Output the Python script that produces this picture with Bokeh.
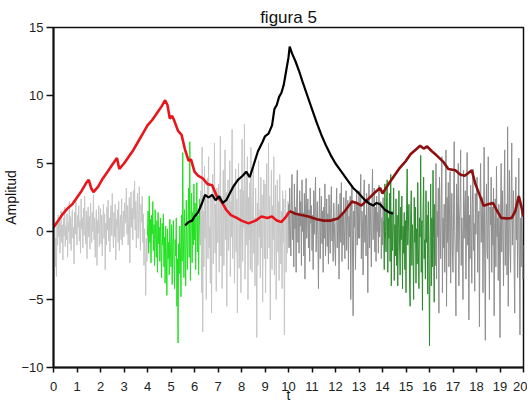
from bokeh.plotting import figure
from bokeh.embed import file_html
from bokeh.resources import INLINE
from bokeh.models import Range1d, FixedTicker

# ---- data ----
# noisy signal, one value every 0.025 t (40 values per unit of t)
sig_0 = [0.3, -1.2, 0.8, -2.6, -0.5, -3.3, 0.6, -1.0, 1.2, -0.4, 0.9, -1.6, 0.2, 1.5, -0.8, 0.5, -2.1, 1.0, -0.3, 1.8,
         -1.1, 0.4, -0.6, 1.3, -1.9, 0.7, 0.0, 2.2, -0.9, 1.1, -1.4, 0.6, 1.6, -0.5, 0.3, -2.4, 1.4, -0.2, 2.3, 0.1]
sig_1 = [-1.0, 1.2, 0.3, 1.9, -0.7, 0.8, -1.6, 2.4, 0.2, 1.0, -1.2, 1.7, -0.3, 2.6, 0.4, -0.9, 1.5, -2.0, 0.9, 1.8,
         -0.4, 1.1, -1.3, 2.1, 0.6, -0.8, 1.4, 0.0, 2.7, -0.6, 1.0, -1.9, 0.5, 1.6, -2.5, 0.8, -0.1, 1.9, -1.1, 0.7]
sig_2 = [1.7, -0.9, 1.2, -1.8, 0.4, 2.0, -0.5, 1.3, -2.8, 0.6, -1.0, 1.8, 0.1, 2.3, -0.7, 1.0, -1.5, 0.8, 1.9, -0.3,
         2.8, 0.2, -1.2, 1.4, -0.4, 2.0, -2.1, 0.9, 0.3, 1.6, -0.8, 2.2, -1.4, 0.5, 1.2, -0.6, 2.4, -1.0, 0.7, 1.5]
sig_3 = [-0.4, 2.1, 0.6, 1.4, 3.2, -0.2, 1.9, -1.0, 0.8, 2.5, -2.3, 1.2, 2.9, 0.3, 1.7, -0.6, 3.0, 0.9, 3.7, 0.1,
         2.2, -1.2, 1.5, 2.8, -0.5, 1.0, 3.3, 0.4, -1.4, 2.0, 0.7, 2.6, -0.8, 1.3, -2.5, 0.2, -1.8, -4.7, -0.5, -2.2]
sig_4 = [-0.3, 1.5, -1.6, 2.6, -0.8, 0.9, -2.3, 1.2, -0.2, 2.2, -1.4, 0.5, -2.5, 1.6, -0.6, -1.9, 0.8, -3.0, 1.4, -0.9,
         0.3, -2.2, 1.0, -1.3, -3.4, 0.6, -1.0, 1.3, -2.6, -0.4, -3.8, 0.4, -1.7, -4.7, 0.2, -2.0, -0.8, -3.2, 0.9, -1.5]
sig_5 = [-2.6, 0.5, -3.9, -1.0, 0.8, -2.4, -4.2, -0.6, -1.8, 1.0, -5.5, -2.0, -8.2, -0.9, -3.1, 0.4, -1.5, -4.8, 1.2, -2.2,
         5.8, -0.4, -3.4, 1.6, -1.2, -4.0, 2.3, -0.7, -2.8, 0.9, 3.2, -1.9, 6.6, -3.6, 0.5, 2.8, -2.3, 1.4, -1.0, 3.5]
sig_6 = [-0.6, 2.1, -2.8, 0.8, 3.6, -1.5, 1.2, -3.2, 0.4, 2.4, -1.0, 3.0, -4.5, 6.2, -7.4, 1.5, -2.6, 4.8, -0.5, 2.6,
         -5.0, 0.9, 3.9, -2.0, 5.5, -1.2, 0.3, -3.8, 2.7, -6.0, 1.8, 4.2, -2.4, 0.6, 6.5, -1.6, 2.0, -4.4, 3.2, -0.8]
sig_7 = [-0.8, 3.5, -3.0, 1.4, 7.0, -1.8, 2.6, -4.2, 0.5, 4.5, -2.5, 1.9, 6.0, -0.6, 2.9, -5.5, 1.0, 3.8, -1.4, 0.2,
         5.2, -3.3, 2.2, -0.4, 7.5, -2.0, 1.2, 3.5, -3.8, 0.8, 4.6, -1.5, 2.4, -6.0, 1.6, 5.0, -2.7, 0.4, 3.1, -4.5]
sig_8 = [1.5, 6.8, -2.2, 3.0, 0.3, 7.9, -3.5, 1.8, 4.4, -1.0, 5.5, -5.0, 2.5, -0.6, 3.6, -2.8, 6.2, 0.2, -3.0, 2.0,
         4.8, -1.6, 1.0, -4.0, 3.2, 0.6, -7.8, 2.1, -2.5, 5.2, -0.4, 1.6, -3.4, 4.0, -1.2, 2.7, -5.2, 0.9, 3.8, -2.0]
sig_9 = [3.5, -4.5, 1.5, 5.0, -2.0, 0.8, 6.5, -1.2, 2.6, -6.5, 0.4, 4.5, -2.8, 1.9, -0.6, 5.5, -3.2, 1.2, 3.4, -5.0,
         0.2, 3.8, -1.5, 2.2, -3.6, 4.2, 0.6, -2.4, 1.5, -4.2, 3.0, -0.8, 2.4, -7.6, 0.5, 3.0, -3.0, 1.4, -1.6, 2.2]
sig_10 = [2.0, -1.2, 3.2, 0.5, -1.8, 2.4, 4.2, -0.6, 1.5, -2.6, 3.5, 0.2, 1.8, -3.0, 2.6, 4.5, -0.8, 1.2, -1.6, 3.0,
          0.4, 2.2, -2.5, 3.8, 0.0, 1.4, -1.8, 2.8, -3.5, 1.5, 3.9, -0.5, 0.9, 2.4, -1.2, 1.6, -2.2, 3.2, 0.6, 1.9]
sig_11 = [-1.4, 1.2, -2.8, 3.0, -0.2, 2.0, 4.0, -1.5, 1.0, 2.2, -0.6, -4.2, 1.0, 3.2, -2.0, 0.8, 2.6, -0.9, 1.5, -3.0,
          1.8, -0.5, 3.5, -1.8, 0.5, 2.4, -1.1, 1.3, -2.4, 2.7, 0.3, -1.6, 1.9, 3.3, -0.7, 1.0, -2.2, 2.1, 0.6, -1.2]
sig_12 = [-2.5, 1.5, 3.2, -1.2, 0.8, 2.0, -3.5, 1.0, 2.8, -0.8, 3.6, -2.2, 1.2, -1.0, 2.5, 0.2, -2.0, 1.7, 3.0, -1.4,
          0.6, 2.3, -2.8, 1.1, -0.4, 2.6, -5.0, 1.4, 3.4, -1.5, -6.2, 1.5, 0.3, 2.2, -2.8, 1.0, 3.0, -1.0, 2.0, -0.5]
sig_13 = [3.0, -0.5, 1.6, 4.2, -2.0, 1.5, 0.2, -3.2, 2.4, 3.8, -0.8, 1.2, -1.8, 2.8, 0.5, -4.5, 1.0, 3.5, -1.2, 2.0,
          0.4, -2.6, 1.8, 4.6, -0.6, 0.8, 3.2, -1.5, 1.8, -2.2, 2.6, 0.0, 1.4, -1.6, 3.4, -0.4, 0.9, 2.2, -2.0, 1.0]
sig_14 = [-1.0, 2.5, 0.8, -2.8, 3.5, 0.0, -1.5, 2.6, 3.8, -3.0, 1.0, -0.5, 2.8, -2.2, 4.2, -4.0, 1.5, -1.4, 0.6, 3.2,
          -3.6, 0.5, -1.8, 2.4, -2.5, 1.2, -4.0, 0.2, 3.0, -1.0, -3.2, 1.8, -0.6, 2.6, -4.2, 0.4, -1.6, 1.4, -2.8, 0.8]
sig_15 = [-4.5, 1.6, 4.6, -1.0, 0.4, 2.0, -3.5, -5.5, 1.2, 3.0, -2.5, 0.5, -1.5, -5.0, 2.5, -0.8, 1.8, -3.8, 0.2, -2.4,
          3.6, -1.2, -4.2, 1.0, -0.4, 5.6, -3.0, 0.8, -5.8, 1.5, 4.0, -2.0, -0.6, -3.5, 3.0, -0.8, 1.2, -4.6, 2.2, -2.0]
sig_16 = [-8.4, -1.0, 3.5, -4.0, 1.0, -2.6, 4.5, -0.5, -5.2, 2.0, -2.5, 5.0, -3.5, 1.5, -0.4, 3.2, -6.0, 4.0, 0.5, -2.0,
          2.4, 5.5, -4.5, 1.0, -1.2, 2.0, -3.0, 0.6, 6.0, -5.5, 2.5, -0.8, 3.6, -2.6, 1.2, 4.4, -3.8, 0.0, 2.8, -1.4]
sig_17 = [-3.0, 1.5, 6.6, 0.0, -2.4, -6.2, 3.5, -1.5, 2.2, 5.0, -4.0, 0.8, 2.0, 6.0, -2.5, 1.0, -0.6, -5.0, 4.5, -0.5,
          1.8, 3.0, -3.5, 0.4, 5.8, -1.0, 2.6, -6.5, 1.2, -2.0, 3.4, 0.2, -3.8, 2.0, 4.6, -1.4, 0.6, -4.4, 2.8, -0.2]
sig_18 = [2.5, 4.0, -3.0, 0.8, 1.5, -7.0, 2.4, 5.0, -0.8, 1.6, 2.5, -4.5, 0.4, 6.2, -2.0, -8.0, 1.0, 3.5, -1.5, -2.0,
          5.5, 0.2, -5.0, 1.8, 0.5, 4.0, -3.0, 1.8, -1.0, 3.2, -6.2, 0.6, 2.4, -2.6, 4.8, -0.4, 1.0, -3.6, 2.0, 0.0]
sig_19 = [-7.8, 1.4, 5.0, -1.5, 3.0, 0.2, -4.0, 2.2, 6.0, -2.5, 0.6, 2.0, -3.2, 7.7, -5.5, 1.0, 4.5, -1.2, -3.0, 2.6,
          6.5, -1.0, 0.8, 3.0, -2.2, -6.0, 1.6, 4.0, -0.6, 2.2, -3.4, 0.4, 5.4, -1.8, -7.6, 1.0, -2.6, 2.0, -0.8, -3.5]
sig_20 = [-1.0]
sig_step = 0.025

# colour segments of the signal, as index ranges into the full signal
seg_bounds = [0, 160, 250, 400, 562, 650, 800]
seg_colors = ["#c6c6c6", "#22e022", "#c6c6c6", "#8e8e8e", "#2e8b2e", "#8e8e8e"]

# red curve (0..10) and dark red curve (10..20)
red_t = [0, 0.2, 0.4, 0.6, 0.8, 1.0, 1.2, 1.4, 1.5, 1.6, 1.7, 1.9, 2.1, 2.3, 2.5, 2.7, 2.8, 3.0, 3.2, 3.4,
         3.6, 3.8, 4.0, 4.2, 4.4, 4.6, 4.75, 4.85, 4.95, 5.05, 5.15, 5.3, 5.45, 5.6, 5.75, 5.85, 6.0, 6.15,
         6.35, 6.55, 6.75, 6.95, 7.15, 7.35, 7.55, 7.8, 8.0, 8.3, 8.6, 8.85, 9.1, 9.3, 9.5, 9.7, 9.9, 10.05]
red_y = [0.3, 0.8, 1.3, 1.7, 2.0, 2.5, 3.0, 3.6, 3.8, 3.2, 2.9, 3.3, 3.9, 4.4, 4.9, 5.4, 4.6, 5.0, 5.5, 6.0,
         6.6, 7.2, 7.8, 8.2, 8.7, 9.2, 9.65, 9.3, 8.3, 8.5, 8.1, 7.4, 7.1, 6.0, 5.2, 5.3, 4.4, 4.1,
         3.9, 3.5, 3.4, 2.6, 2.2, 1.6, 1.2, 1.0, 0.8, 0.6, 0.8, 1.1, 1.0, 1.1, 0.8, 0.7, 1.1, 1.5]
dred_t = [10.05, 10.3, 10.6, 10.85, 11.2, 11.5, 11.8, 12.1, 12.4, 12.7, 12.9, 13.1, 13.4, 13.7, 13.9, 14.0,
          14.3, 14.7, 15.0, 15.2, 15.4, 15.6, 15.75, 15.9, 16.1, 16.3, 16.6, 16.8, 17.1, 17.3, 17.5, 17.65,
          17.8, 17.95, 18.15, 18.3, 18.5, 18.7, 18.85, 19.05, 19.3, 19.5, 19.65, 19.8, 19.9, 20.0]
dred_y = [1.5, 1.3, 1.2, 1.1, 0.9, 0.8, 0.8, 0.95, 1.5, 2.2, 2.1, 1.9, 2.4, 2.9, 3.2, 2.8,
          3.6, 4.6, 5.2, 5.7, 6.0, 6.3, 6.1, 6.25, 5.9, 5.6, 5.1, 4.6, 4.5, 4.2, 4.1, 4.3,
          4.5, 3.5, 2.6, 1.9, 2.0, 2.1, 1.6, 1.0, 0.95, 1.0, 1.5, 2.6, 1.9, 1.1]
# black curve
blk_t = [5.6, 5.75, 5.9, 6.0, 6.15, 6.3, 6.45, 6.6, 6.75, 6.9, 7.05, 7.2, 7.35, 7.5, 7.65, 7.85, 8.05, 8.2,
         8.35, 8.5, 8.7, 8.9, 9.0, 9.15, 9.3, 9.4, 9.5, 9.6, 9.7, 9.8, 9.9, 10.0, 10.05, 10.15, 10.3, 10.45,
         10.6, 10.8, 11.0, 11.2, 11.4, 11.6, 11.8, 12.0, 12.25, 12.5, 12.75, 13.0, 13.2, 13.4, 13.6, 13.75,
         13.9, 14.1, 14.3, 14.45]
blk_y = [0.45, 0.7, 0.8, 1.1, 1.4, 2.0, 2.7, 2.5, 2.7, 2.3, 2.6, 2.1, 2.3, 2.8, 3.3, 3.8, 4.1, 4.4,
         4.0, 4.8, 5.9, 6.6, 7.0, 7.2, 7.8, 9.0, 9.3, 9.9, 10.2, 10.8, 11.8, 12.8, 13.6, 13.1, 12.5, 11.8,
         11.0, 10.0, 9.0, 8.0, 7.1, 6.3, 5.6, 5.0, 4.4, 3.8, 3.2, 2.8, 2.4, 2.1, 1.9, 2.1,
         2.0, 1.6, 1.4, 1.3]

x_ticks = list(range(0, 21))
y_ticks = [-10, -5, 0, 5, 10, 15]

# ---- figure ----
FONT = "Liberation Sans"
p = figure(frame_width=470, frame_height=340, output_backend="svg", toolbar_location=None,
           x_range=Range1d(0, 20), y_range=Range1d(-10, 15),
           title="figura 5", min_border_left=44, min_border_right=4,
           min_border_top=27, min_border_bottom=30)
p.title.align = "center"
p.title.text_font = FONT
p.title.text_font_size = "17px"
p.title.text_font_style = "normal"
p.title.text_color = "#111111"
p.title.offset = 0
p.title.standoff = 2

sig = (sig_0 + sig_1 + sig_2 + sig_3 + sig_4 + sig_5 + sig_6 + sig_7 + sig_8 + sig_9 + sig_10 +
       sig_11 + sig_12 + sig_13 + sig_14 + sig_15 + sig_16 + sig_17 + sig_18 + sig_19 + sig_20)
sig_t = [i * sig_step for i in range(len(sig))]
for k in range(len(seg_colors)):
    a, b = seg_bounds[k], seg_bounds[k + 1]
    p.line(sig_t[a:b + 1], sig[a:b + 1], line_color=seg_colors[k], line_width=1)

p.line(red_t, red_y, line_color="#e8161c", line_width=2.6)
p.line(dred_t, dred_y, line_color="#8c1010", line_width=2.6)
p.line(blk_t, blk_y, line_color="#000000", line_width=2.2)

p.xgrid.visible = False
p.ygrid.visible = False
p.outline_line_color = "#111111"
p.outline_line_width = 1.5

p.xaxis.ticker = FixedTicker(ticks=x_ticks)
p.yaxis.ticker = FixedTicker(ticks=y_ticks)
for ax in (p.xaxis[0], p.yaxis[0]):
    ax.axis_line_color = "#111111"
    ax.axis_line_width = 2
    ax.major_tick_line_color = "#111111"
    ax.major_tick_line_width = 1.5
    ax.major_tick_in = 0
    ax.minor_tick_line_color = None
    ax.major_label_text_font = FONT
    ax.major_label_text_font_size = "13px"
    ax.major_label_text_color = "#222222"
    ax.axis_label_text_font = FONT
    ax.axis_label_text_font_style = "normal"
    ax.axis_label_text_color = "#111111"
p.xaxis.major_tick_out = 5
p.yaxis.major_tick_out = 7
p.xaxis.axis_label = "t"
p.xaxis.axis_label_text_font_size = "14px"
p.xaxis.axis_label_standoff = -7
p.xaxis.major_label_standoff = 9
p.yaxis.axis_label = "Amplitud"
p.yaxis.axis_label_text_font_size = "14px"
p.yaxis.axis_label_standoff = -1
p.yaxis.major_label_standoff = 3

open("out.html", "w").write(file_html(p, INLINE))
